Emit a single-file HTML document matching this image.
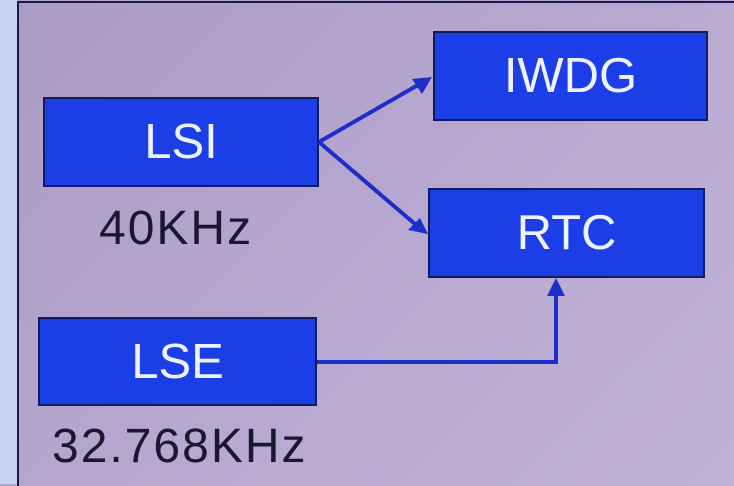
<!DOCTYPE html>
<html><head><style>
body{margin:0;width:734px;height:484px;overflow:hidden;background:#b4a6cc;position:relative;font-family:"Liberation Sans","DejaVu Sans",sans-serif}
.strip{position:absolute;left:0;top:0;width:17px;height:484px;background:#c9d2f2}
.frame{position:absolute;left:17px;top:1px;width:720px;height:483px;border-left:2px solid #1a1850;border-top:2px solid #1a1850;background:linear-gradient(135deg,#ab9cc6,#b9aad2 60%,#c0b3d8)}
.box{position:absolute;background:#1b3ee6;border:2px solid #141a5a;box-sizing:border-box;color:#eef2ff;font-size:49px;display:flex;align-items:center;justify-content:center}
.lbl{position:absolute;color:#181830;font-size:48px;letter-spacing:2px}
svg{position:absolute;left:0;top:0}
</style></head><body>
<div class="strip"></div><div class="frame"></div>
<div class="box" style="left:43px;top:97px;width:276px;height:90px">LSI</div>
<div class="box" style="left:433px;top:31px;width:275px;height:90px">IWDG</div>
<div class="box" style="left:428px;top:188px;width:277px;height:90px">RTC</div>
<div class="box" style="left:38px;top:317px;width:279px;height:89px">LSE</div>
<div class="lbl" style="left:99px;top:201px">40KHz</div>
<div class="lbl" style="left:52px;top:419px">32.768KHz</div>
<svg width="734" height="484">
<g stroke="#1d2fc8" stroke-width="4" fill="none">
<line x1="319" y1="142" x2="418" y2="85"/>
<line x1="319" y1="142" x2="415" y2="224"/>
<polyline points="317,362 556,362 556,292"/>
</g>
<g fill="#1d2fc8">
<polygon points="432,77 412,79 422,94"/>
<polygon points="428,234 408,230 420,218"/>
<polygon points="556,278 547,296 565,296"/>
</g>
</svg>
</body></html>
